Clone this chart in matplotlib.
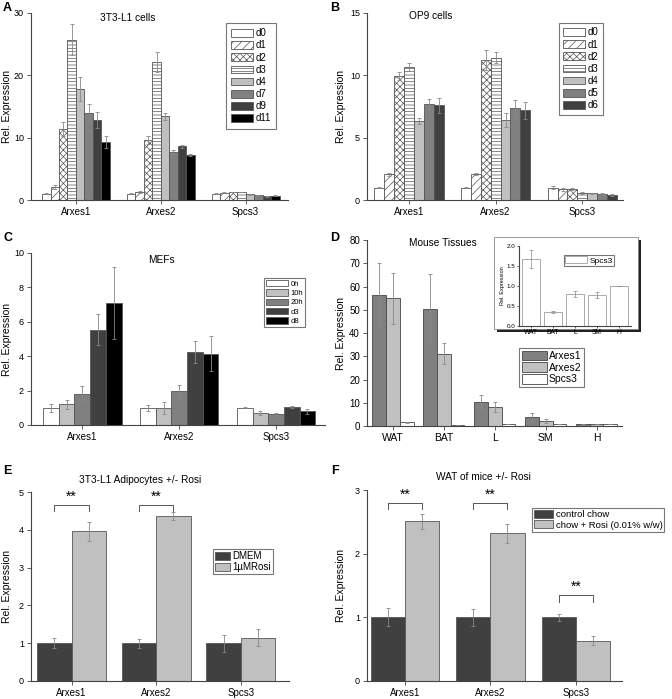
import numpy as np
import matplotlib
matplotlib.use("Agg")
import matplotlib.pyplot as plt
from matplotlib.patches import Rectangle

plt.rcParams['font.family'] = ['Liberation Sans', 'DejaVu Sans']
plt.rcParams['hatch.linewidth'] = 0.5

W, H = 672, 699

# ---- data ----
genes = ["Arxes1", "Arxes2", "Spcs3"]

a_labels = ["d0", "d1", "d2", "d3", "d4", "d7", "d9", "d11"]
a_vals = [[1.0, 2.1, 11.4, 25.7, 17.8, 14.0, 12.8, 9.3],
          [1.0, 1.3, 9.6, 22.2, 13.4, 7.7, 8.6, 7.2],
          [1.0, 1.2, 1.3, 1.3, 0.9, 0.8, 0.6, 0.7]]
a_err = [[0.1, 0.3, 1.1, 2.5, 1.9, 1.4, 1.3, 1.0],
         [0.05, 0.1, 0.6, 1.6, 0.5, 0.3, 0.2, 0.15],
         [0.05, 0.05, 0.05, 0.05, 0.05, 0.05, 0.05, 0.05]]

b_labels = ["d0", "d1", "d2", "d3", "d4", "d5", "d6"]
b_vals = [[1.0, 2.05, 9.95, 10.65, 6.35, 7.7, 7.6],
          [1.0, 2.1, 11.2, 11.4, 6.4, 7.35, 7.2],
          [1.0, 0.85, 0.85, 0.6, 0.55, 0.5, 0.4]]
b_err = [[0.03, 0.1, 0.3, 0.3, 0.25, 0.4, 0.6],
         [0.03, 0.08, 0.8, 0.45, 0.55, 0.7, 0.7],
         [0.12, 0.15, 0.08, 0.08, 0.05, 0.05, 0.05]]

c_labels = ["0h", "10h", "20h", "d3", "d8"]
c_vals = [[1.0, 1.2, 1.8, 5.55, 7.1],
          [1.0, 1.0, 1.95, 4.25, 4.15],
          [1.0, 0.7, 0.65, 1.05, 0.8]]
c_err = [[0.22, 0.25, 0.45, 0.9, 2.1],
         [0.18, 0.35, 0.37, 0.65, 1.0],
         [0.04, 0.1, 0.04, 0.08, 0.15]]

tissues = ["WAT", "BAT", "L", "SM", "H"]
d_labels = ["Arxes1", "Arxes2", "Spcs3"]
d_vals = [[56.5, 50.3, 10.4, 4.0, 0.9],
          [55.0, 31.0, 8.2, 2.2, 0.9],
          [1.67, 0.35, 0.8, 0.77, 1.0]]
d_err = [[13.5, 15.0, 3.0, 1.7, 0.1],
         [11.0, 4.5, 2.2, 0.8, 0.1],
         [0.22, 0.03, 0.08, 0.08, 0.01]]

e_labels = ["DMEM", "1µMRosi"]
e_vals = [[1.0, 3.96], [1.0, 4.36], [1.0, 1.15]]
e_err = [[0.13, 0.25], [0.12, 0.1], [0.22, 0.22]]
e_sig = [4.66, 4.66, None]

f_labels = ["control chow", "chow + Rosi (0.01% w/w)"]
f_vals = [[1.0, 2.51], [1.0, 2.32], [1.0, 0.63]]
f_err = [[0.14, 0.12], [0.13, 0.15], [0.05, 0.07]]
f_sig = [2.8, 2.8, 1.35]

# ---- helpers ----
fig = plt.figure(figsize=(W / 100, H / 100), dpi=100)


def add_ax(x0, y0, x1, y1):
    return fig.add_axes([x0 / W, 1 - y1 / H, (x1 - x0) / W, (y1 - y0) / H])


def fx(px):
    return px / W


def fy(py):
    return 1 - py / H


def style(ax, fs=6.5, xfs=7):
    for s in ["top", "right"]:
        ax.spines[s].set_visible(False)
    for s in ["left", "bottom"]:
        ax.spines[s].set_color("#444444")
        ax.spines[s].set_linewidth(0.8)
    ax.tick_params(axis="both", length=3, width=0.6, color="#444444",
                   labelsize=fs, pad=2)
    ax.tick_params(axis="x", labelsize=xfs)


def grouped(ax, vals, err, w, colors, hatches, edge="#555555"):
    vals = np.array(vals)
    err = np.array(err)
    n = vals.shape[1]
    x = np.arange(1, vals.shape[0] + 1)
    handles = []
    for i in range(n):
        pos = x + (i - (n - 1) / 2) * w
        b = ax.bar(pos, vals[:, i], w, color=colors[i], hatch=hatches[i],
                   edgecolor=edge, linewidth=0.6)
        ax.errorbar(pos, vals[:, i], yerr=err[:, i], fmt="none",
                    ecolor="#888888", elinewidth=0.6, capsize=1.5,
                    capthick=0.6)
        handles.append(b)
    ax.set_xticks(x)
    return handles


def ylab(ax, text, px, x0, x1, fs=7.5):
    ax.set_ylabel(text, fontsize=fs)
    ax.yaxis.set_label_coords((px - x0) / (x1 - x0), 0.5)


def legend(ax, handles, labels, px, py, fs=7, **kw):
    lg = ax.legend(handles, labels, loc="upper left",
                   bbox_to_anchor=(fx(px), fy(py)),
                   bbox_transform=fig.transFigure, fontsize=fs,
                   fancybox=False, edgecolor="#777777", framealpha=1,
                   borderaxespad=0, **kw)
    lg.get_frame().set_linewidth(0.8)
    return lg


def brackets(ax, sig, w):
    for i, lvl in enumerate(sig):
        if lvl is None:
            continue
        g = i + 1
        xa, xb = g - w / 2, g + w / 2
        d = 0.035 * ax.get_ylim()[1]
        ax.plot([xa, xa, xb, xb], [lvl - d, lvl, lvl, lvl - d],
                color="#555555", lw=0.7)
        ax.text(g, lvl + d * 0.2, "**", ha="center", va="bottom",
                fontsize=10)


# ---- A ----
axA = add_ax(31, 13, 288, 200)
style(axA)
colA = ["white", "white", "white", "white", "#c0c0c0", "#808080",
        "#404040", "black"]
hatA = [None, "////", "xxxxx", "-----", None, None, None, None]
hA = grouped(axA, a_vals, a_err, 0.1, colA, hatA)
axA.set_xlim(0.47, 3.5)
axA.set_ylim(0, 30)
axA.set_yticks([0, 10, 20, 30])
axA.set_xticklabels(genes)
ylab(axA, "Rel. Expression", 12, 31, 288)
legend(axA, hA, a_labels, 226, 23, fs=7, handlelength=2.2,
       handleheight=0.85, labelspacing=0.22, handletextpad=0.3,
       borderpad=0.55)
axA.text((128 - 31) / 257, 0.975, "3T3-L1 cells", transform=axA.transAxes,
         ha="center", va="center", fontsize=7.3)

# ---- B ----
axB = add_ax(367, 13, 623, 200)
style(axB)
colB = ["white", "white", "white", "white", "#c0c0c0", "#808080", "#404040"]
hatB = [None, "////", "xxxxx", "-----", None, None, None]
hB = grouped(axB, b_vals, b_err, 0.114, colB, hatB)
axB.set_xlim(0.515, 3.47)
axB.set_ylim(0, 15)
axB.set_yticks([0, 5, 10, 15])
axB.set_xticklabels(genes)
ylab(axB, "Rel. Expression", 346, 367, 623)
legend(axB, hB, b_labels, 559, 23, fs=7, handlelength=2.2,
       handleheight=0.85, labelspacing=0.22, handletextpad=0.3,
       borderpad=0.45)
axB.text((431 - 367) / 256, 0.985, "OP9 cells", transform=axB.transAxes,
         ha="center", va="center", fontsize=7.3)

# ---- C ----
axC = add_ax(31, 253, 325, 425)
style(axC)
colC = ["white", "#c0c0c0", "#808080", "#404040", "black"]
hC = grouped(axC, c_vals, c_err, 0.162, colC, [None] * 5)
axC.set_xlim(0.47, 3.505)
axC.set_ylim(0, 10)
axC.set_yticks([0, 2, 4, 6, 8, 10])
axC.set_xticklabels(genes)
ylab(axC, "Rel. Expression", 12, 31, 325)
legend(axC, hC, c_labels, 264, 278, fs=5.5, handlelength=2.9,
       handleheight=0.9, labelspacing=0.2, handletextpad=0.3,
       borderpad=0.25)
axC.text((161 - 31) / 294, 0.96, "MEFs", transform=axC.transAxes,
         ha="center", va="center", fontsize=7.3)

# ---- D ----
axD = add_ax(367, 240, 622, 426)
style(axD, fs=7, xfs=7.5)
colD = ["#808080", "#c0c0c0", "white"]
hD = grouped(axD, np.array(d_vals).T, np.array(d_err).T, 0.27, colD,
             [None] * 3, edge="#444444")
axD.set_xlim(0.49, 5.5)
axD.set_ylim(0, 80)
axD.set_yticks(range(0, 81, 10))
axD.set_xticklabels(tissues)
ylab(axD, "Rel. Expression", 346, 367, 622)
legend(axD, hD, d_labels, 519, 348, fs=7.5, handlelength=2.4,
       handleheight=1.0, labelspacing=0.15, handletextpad=0.2,
       borderpad=0.25)
axD.text((443 - 367) / 255, 0.985, "Mouse Tissues", transform=axD.transAxes,
         ha="center", va="center", fontsize=7.3)

# inset frame with shadow
fig.patches.append(Rectangle((fx(497), fy(332)), fx(638 - 494), (329 - 237) / H,
                             transform=fig.transFigure, facecolor="#222222",
                             edgecolor="none", zorder=1))
fig.patches.append(Rectangle((fx(494), fy(329)), fx(638 - 494), (329 - 237) / H,
                             transform=fig.transFigure, facecolor="white",
                             edgecolor="#888888", lw=0.6, zorder=2))
axI = add_ax(519, 246, 631, 326)
axI.set_zorder(5)
style(axI, fs=4.5, xfs=4.8)
axI.tick_params(length=1.5, pad=1)
xi = np.arange(1, len(tissues) + 1)
hI = axI.bar(xi, d_vals[2], 0.82, color="white", edgecolor="#aaaaaa",
             linewidth=0.7)
axI.errorbar(xi, d_vals[2], yerr=d_err[2], fmt="none", ecolor="#888888",
             elinewidth=0.5, capsize=1.2, capthick=0.5)
axI.set_xlim(0.45, 5.55)
axI.set_ylim(0, 2.0)
axI.set_yticks([0, 0.5, 1.0, 1.5, 2.0])
axI.set_yticklabels(["0.0", "0.5", "1.0", "1.5", "2.0"])
axI.set_xticks(xi)
axI.set_xticklabels(tissues)
ylab(axI, "Rel. Expression", 505, 519, 631, fs=4)
legend(axI, [hI], ["Spcs3"], 564, 255, fs=6, handlelength=2.6,
       handleheight=0.9, handletextpad=0.3, borderpad=0.15)

# ---- E ----
axE = add_ax(31, 492, 289, 681)
style(axE)
colE = ["#404040", "#c0c0c0"]
hE = grouped(axE, e_vals, e_err, 0.406, colE, [None, None], edge="#555555")
axE.set_xlim(0.52, 3.57)
axE.set_ylim(0, 5)
axE.set_yticks(range(0, 6))
axE.set_xticklabels(genes)
ylab(axE, "Rel. Expression", 12, 31, 289)
brackets(axE, e_sig, 0.406)
legend(axE, hE, e_labels, 213, 549, fs=7, handlelength=1.5,
       handleheight=0.9, labelspacing=0.15, handletextpad=0.3,
       borderpad=0.2)
fig.text(fx(140), fy(480), "3T3-L1 Adipocytes +/- Rosi", ha="center",
         va="center", fontsize=7.3)

# ---- F ----
axF = add_ax(367, 490, 622, 681)
style(axF)
hF = grouped(axF, f_vals, f_err, 0.4, colE, [None, None], edge="#555555")
axF.set_xlim(0.556, 3.54)
axF.set_ylim(0, 3)
axF.set_yticks(range(0, 4))
axF.set_xticklabels(genes)
ylab(axF, "Rel. Expression", 346, 367, 622)
brackets(axF, f_sig, 0.4)
legend(axF, hF, f_labels, 532, 508, fs=6.8, handlelength=2.0,
       handleheight=0.9, labelspacing=0.15, handletextpad=0.3,
       borderpad=0.2)
fig.text(fx(483), fy(477), "WAT of mice +/- Rosi", ha="center",
         va="center", fontsize=7.3)

# panel letters
for lt, px, py in [("A", 3, 8), ("B", 330, 8), ("C", 3, 238),
                   ("D", 330, 238), ("E", 3, 471), ("F", 331, 471)]:
    fig.text(fx(px), fy(py), lt, fontsize=9, fontweight="bold",
             ha="left", va="center")

fig.savefig("out.png", dpi=100)
